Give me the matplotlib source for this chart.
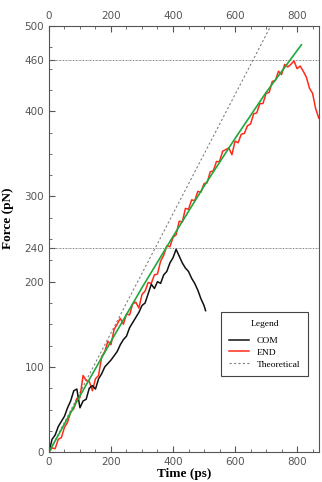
import numpy as np
import matplotlib.pyplot as plt
from matplotlib.ticker import MultipleLocator

# --- data ---
end_time = [0, 10, 20, 30, 40, 50, 60, 70, 80, 90, 100, 110, 120, 130, 140, 150, 160, 170, 180, 190,
            200, 210, 220, 230, 240, 250, 260, 270, 280, 290, 300, 310, 320, 330, 340, 350, 360, 370, 380, 390,
            400, 410, 420, 430, 440, 450, 460, 470, 480, 490, 500, 510, 520, 530, 540, 550, 560, 570, 580, 590,
            600, 610, 620, 630, 640, 650, 660, 670, 680, 690, 700, 710, 720, 730, 740, 750, 760, 770, 780, 790,
            800, 810, 820, 830, 840, 850, 860, 870]
end_force = [0, 5, 4, 15, 17, 29, 35, 47, 51, 63, 64, 90, 84, 83, 72, 86, 90, 112, 118, 130,
             126, 144, 150, 157, 150, 162, 161, 174, 176, 169, 185, 189, 199, 198, 208, 209, 224, 231, 242, 241,
             252, 255, 271, 270, 286, 285, 296, 295, 306, 305, 315, 316, 329, 330, 341, 341, 353, 355, 357, 349,
             365, 363, 373, 374, 383, 385, 397, 398, 409, 409, 421, 422, 435, 436, 447, 443, 455, 452, 455, 459,
             450, 453, 447, 440, 427, 421, 403, 392]

com_time = [0, 10, 20, 30, 40, 50, 60, 70, 80, 90, 100, 110, 120, 130, 140, 150, 160, 170, 180, 190,
            200, 210, 220, 230, 240, 250, 260, 270, 280, 290, 300, 310, 320, 330, 340, 350, 360, 370, 380, 390,
            400, 410, 420, 430, 440, 450, 460, 470, 480, 490, 500, 505]
com_force = [0, 15, 20, 30, 36, 42, 52, 60, 72, 74, 52, 60, 62, 75, 78, 74, 86, 92, 100, 104,
             108, 113, 118, 126, 132, 136, 146, 152, 158, 164, 172, 175, 186, 197, 192, 200, 198, 208, 212, 222,
             228, 238, 230, 222, 216, 212, 204, 198, 190, 180, 172, 166]

fit_time = [0, 100, 200, 300, 400, 500, 600, 700, 814]
fit_force = [0, 66, 130, 193, 253, 312, 368, 422, 478]

theo_time = [0, 715]
theo_force = [0, 500]

ref_levels = [240, 460]
y_ticks = [0, 100, 200, 240, 300, 400, 460, 500]

fig = plt.figure(figsize=(3.22, 4.82), dpi=100)
ax = fig.add_axes([0.152, 0.062, 0.838, 0.884])

for lvl in ref_levels:
    ax.axhline(lvl, color='#666666', lw=0.6, linestyle=(0, (1.5, 1, 0.5, 1)))

ax.plot(theo_time, theo_force, color='#808080', lw=0.8, linestyle=(0, (2, 2)), label='Theoretical')
ax.plot(end_time, end_force, color='#ff2a1a', lw=1.1, label='END')
ax.plot(com_time, com_force, color='#111111', lw=1.1, label='COM')
ax.plot(fit_time, fit_force, color='#1fa83c', lw=1.2)

ax.set_xlim(0, 870)
ax.set_ylim(0, 500)
ax.set_yticks(y_ticks)
ax.xaxis.set_major_locator(MultipleLocator(200))
ax.xaxis.set_minor_locator(MultipleLocator(50))
ax.yaxis.set_minor_locator(MultipleLocator(25))
ax.tick_params(which='both', direction='in', top=True, labeltop=True,
               labelsize=7.5, labelcolor='#555555', color='#555555')
ax.tick_params(which='major', length=4)
ax.tick_params(which='minor', length=2)
for s in ax.spines.values():
    s.set_color('#555555')
    s.set_linewidth(0.8)

ax.set_xlabel('Time (ps)', family='Liberation Serif', fontweight='bold', fontsize=9.5, labelpad=1)
ax.set_ylabel('Force (pN)', family='Liberation Serif', fontweight='bold', fontsize=9.5, labelpad=4)
ax.yaxis.set_label_coords(-0.13, 0.55)

handles, labels = ax.get_legend_handles_labels()
order = [2, 1, 0]
leg = ax.legend([handles[i] for i in order], [labels[i] for i in order],
                title='Legend', loc='lower right', bbox_to_anchor=(0.96, 0.178),
                borderaxespad=0,
                prop={'family': 'Liberation Serif', 'size': 6.8},
                title_fontproperties={'family': 'Liberation Serif', 'size': 6.8},
                fancybox=False, edgecolor='#444444', framealpha=1,
                handlelength=2.2, borderpad=0.8, labelspacing=0.35)
leg.get_frame().set_linewidth(0.8)
leg._legend_box.sep = 6

fig.savefig('out.png', dpi=100)
